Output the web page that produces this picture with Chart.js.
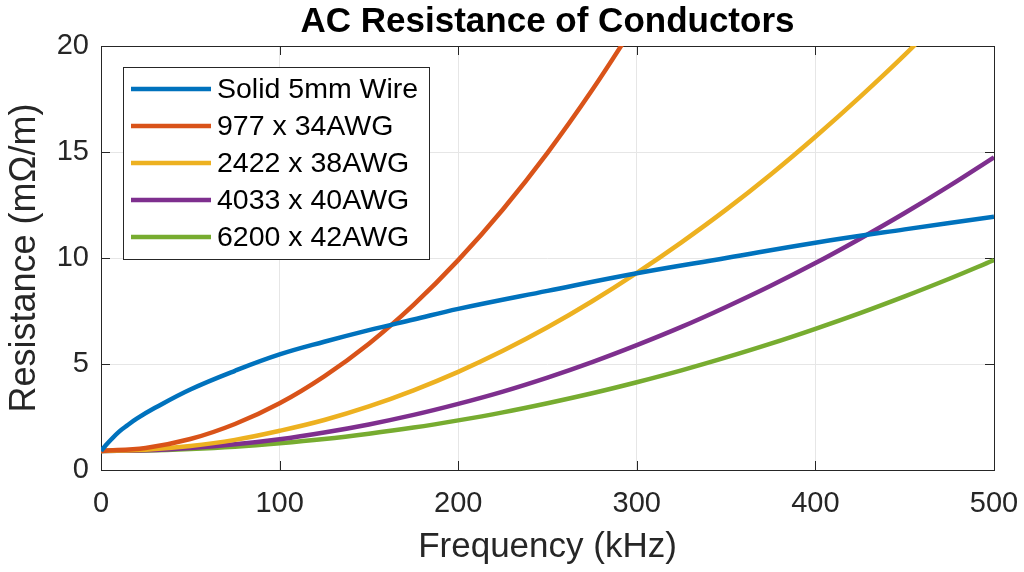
<!DOCTYPE html>
<html>
<head>
<meta charset="utf-8">
<script src="https://cdn.jsdelivr.net/npm/chart.js@4"></script>
<style>
  html, body { margin: 0; padding: 0; background: #fff; }
  #wrap { width: 1024px; height: 572px; }
</style>
</head>
<body>
<div id="wrap"><canvas id="acChart" width="1024" height="572"></canvas></div>
<script>
// frequency samples (kHz)
const solidFreq  = [0, 2, 5, 10, 15, 20, 30, 50, 75, 100, 125, 150, 175, 200, 250, 300, 350, 400, 450, 500];
const strandFreq = [0, 25, 50, 75, 100, 125, 150, 175, 200, 225, 250, 275, 300, 325, 350, 375, 400, 425, 450, 475, 500];

// resistance, mOhm/m
const solidWire = [0.90, 1.10, 1.38, 1.80, 2.12, 2.42, 2.92, 3.80, 4.68, 5.45, 6.05, 6.60, 7.10, 7.60, 8.45, 9.28, 10.00, 10.72, 11.35, 11.95];
const awg34 = [0.90, 1.04, 1.46, 2.17, 3.15, 4.42, 5.96, 7.79, 9.90, 12.29, 14.96, 17.92, 21.15];
const awg38 = [0.90, 0.96, 1.13, 1.42, 1.85, 2.36, 3.00, 3.76, 4.63, 5.62, 6.73, 7.96, 9.30, 10.74, 12.28, 13.94, 15.72, 17.60, 19.58, 21.70];
const awg40 = [0.90, 0.93, 1.04, 1.21, 1.45, 1.77, 2.15, 2.60, 3.12, 3.70, 4.36, 5.09, 5.89, 6.75, 7.69, 8.69, 9.76, 10.91, 12.12, 13.40, 14.75];
const awg42 = [0.90, 0.92, 0.99, 1.10, 1.26, 1.46, 1.71, 2.00, 2.34, 2.72, 3.15, 3.62, 4.14, 4.70, 5.31, 5.96, 6.66, 7.40, 8.19, 9.02, 9.90];

const seriesNames  = ["Solid 5mm Wire", "977 x 34AWG", "2422 x 38AWG", "4033 x 40AWG", "6200 x 42AWG"];
const seriesColors = ["#0072BD", "#D95319", "#EDB120", "#7E2F8E", "#77AC30"];

const FONT = "'Liberation Sans', Arial, Helvetica, sans-serif";
const AXIS_COLOR = "#262626";

function toPoints(xs, ys) {
    return ys.map((y, i) => ({ x: xs[i], y }));
}

const seriesData = [
    toPoints(solidFreq, solidWire),
    toPoints(strandFreq, awg34),
    toPoints(strandFreq, awg38),
    toPoints(strandFreq, awg40),
    toPoints(strandFreq, awg42)
];

// box around the axes with inward ticks on all four sides
const framePlugin = {
    id: "frame",
    beforeDatasetsDraw(chart) {
        const { ctx, chartArea: a, scales } = chart;
        const len = 9;
        ctx.save();
        ctx.strokeStyle = AXIS_COLOR;
        ctx.lineWidth = 1;
        ctx.beginPath();
        scales.x.ticks.forEach(t => {
            const px = Math.round(scales.x.getPixelForValue(t.value)) + 0.5;
            ctx.moveTo(px, a.bottom); ctx.lineTo(px, a.bottom - len);
            ctx.moveTo(px, a.top);    ctx.lineTo(px, a.top + len);
        });
        scales.y.ticks.forEach(t => {
            const py = Math.round(scales.y.getPixelForValue(t.value)) + 0.5;
            ctx.moveTo(a.left, py);  ctx.lineTo(a.left + len, py);
            ctx.moveTo(a.right, py); ctx.lineTo(a.right - len, py);
        });
        ctx.stroke();
        ctx.strokeRect(Math.round(a.left) + 0.5, Math.round(a.top) + 0.5,
                       Math.round(a.right - a.left), Math.round(a.bottom - a.top));
        ctx.restore();
    }
};

// heading centred over the plot area
const headingPlugin = {
    id: "heading",
    afterDraw(chart) {
        const { ctx, chartArea: a } = chart;
        ctx.save();
        ctx.font = "bold 35px " + FONT;
        ctx.fillStyle = "#000";
        ctx.textAlign = "center";
        ctx.textBaseline = "middle";
        ctx.fillText("AC Resistance of Conductors", (a.left + a.right) / 2, 22);
        ctx.restore();
    }
};

// boxed legend inside the upper-left corner of the axes
const boxLegendPlugin = {
    id: "boxLegend",
    afterDatasetsDraw(chart) {
        const { ctx, chartArea: a } = chart;
        const x0 = a.left + 22, y0 = a.top + 21;
        const w = 306, h = 192, row = 37;
        ctx.save();
        ctx.fillStyle = "#fff";
        ctx.fillRect(x0, y0, w, h);
        ctx.strokeStyle = AXIS_COLOR;
        ctx.lineWidth = 1;
        ctx.strokeRect(Math.round(x0) + 0.5, Math.round(y0) + 0.5, w, h);
        ctx.font = "28.5px " + FONT;
        ctx.textBaseline = "middle";
        chart.data.datasets.forEach((ds, i) => {
            const y = y0 + 22 + i * row;
            ctx.strokeStyle = ds.borderColor;
            ctx.lineWidth = 4.5;
            ctx.beginPath();
            ctx.moveTo(x0 + 8, y);
            ctx.lineTo(x0 + 88, y);
            ctx.stroke();
            ctx.fillStyle = "#000";
            ctx.fillText(ds.label, x0 + 94, y + 1);
        });
        ctx.restore();
    }
};

new Chart(document.getElementById("acChart"), {
    type: "line",
    data: {
        datasets: seriesData.map((pts, i) => ({
            label: seriesNames[i],
            data: pts,
            borderColor: seriesColors[i],
            backgroundColor: seriesColors[i],
            borderWidth: 4.5,
            pointRadius: 0,
            tension: 0.4,
            fill: false
        }))
    },
    options: {
        responsive: false,
        animation: false,
        devicePixelRatio: 1,
        layout: { padding: { top: 46, right: 30, left: 0, bottom: 0 } },
        plugins: {
            legend: { display: false },
            tooltip: { enabled: false }
        },
        scales: {
            x: {
                type: "linear",
                min: 0,
                max: 500,
                afterFit(s) { s.height = 102; s.paddingLeft = 0; s.paddingRight = 0; },
                ticks: { stepSize: 100, color: AXIS_COLOR, font: { family: FONT, size: 29 }, padding: 17, maxRotation: 0 },
                grid: { color: "#e6e6e6", lineWidth: 1, drawTicks: false },
                border: { display: false },
                title: { display: true, text: "Frequency (kHz)", color: AXIS_COLOR,
                         font: { family: FONT, size: 35 }, padding: { top: 0, bottom: 4 } }
            },
            y: {
                min: 0,
                max: 20,
                afterFit(s) { s.width = 101; },
                ticks: { stepSize: 5, color: AXIS_COLOR, font: { family: FONT, size: 29 }, padding: 12 },
                grid: { color: "#e6e6e6", lineWidth: 1, drawTicks: false },
                border: { display: false },
                title: { display: true, text: "Resistance (mΩ/m)", color: AXIS_COLOR,
                         font: { family: FONT, size: 36 }, padding: { top: 3, bottom: 0 } }
            }
        }
    },
    plugins: [framePlugin, boxLegendPlugin, headingPlugin]
});
</script>
</body>
</html>
